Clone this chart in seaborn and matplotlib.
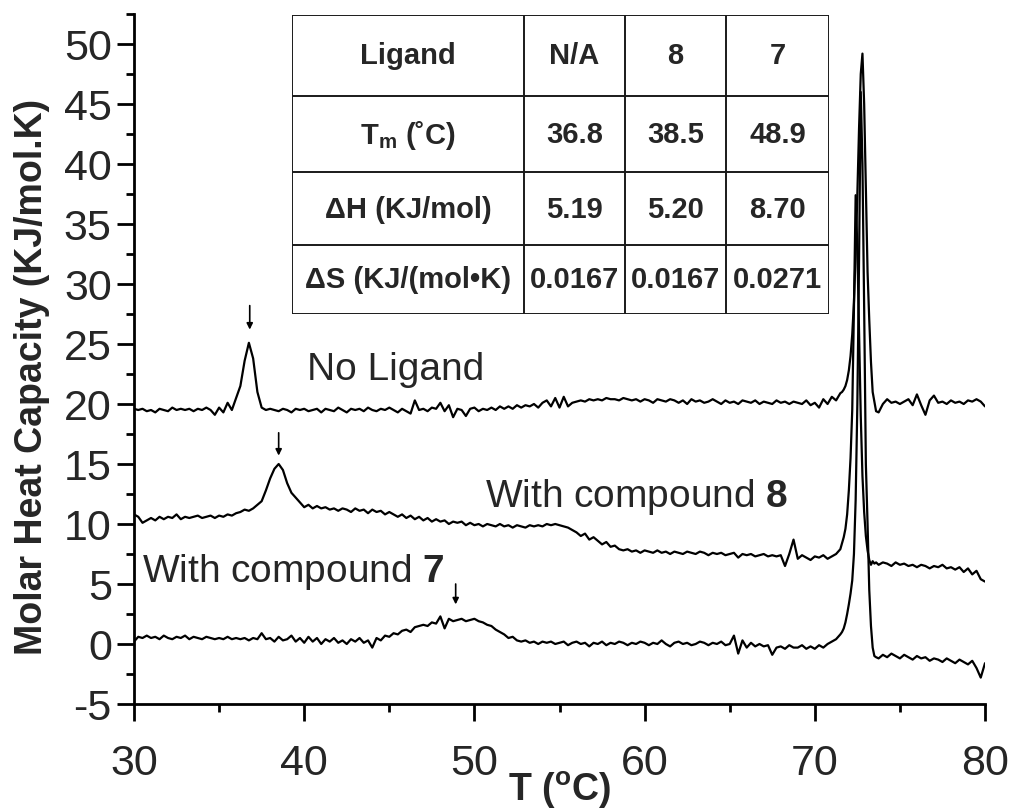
import numpy as np
import pandas as pd
import matplotlib
matplotlib.use("Agg")
import matplotlib.pyplot as plt
from matplotlib.ticker import MultipleLocator
import seaborn as sns

# ---------------- data ----------------
# Temperature sampling (degC): coarse below the main transition, fine across it, coarse after
temp_low = np.arange(30.0, 71.5 + 1e-9, 0.25)
temp_mid = np.round(np.arange(71.6, 73.6 + 1e-9, 0.1), 2)
temp_high = np.arange(73.75, 80.0 + 1e-9, 0.25)
temperature = np.concatenate([temp_low, temp_mid, temp_high])

cp_no_ligand = [
    19.6, 19.5, 19.6, 19.4,  19.5, 19.3, 19.6, 19.5,  19.4, 19.7, 19.5, 19.6,
    19.5, 19.6, 19.4, 19.6,  19.5, 19.7, 19.5, 19.1,  19.7, 19.3, 20.1, 19.5,
    20.5, 21.5, 23.6, 25.1,  23.8, 21.0, 19.7, 19.5,  19.6, 19.5, 19.4, 19.6,
    19.5, 19.3, 19.6, 19.5,  19.6, 19.4, 19.5, 19.6,  19.3, 19.6, 19.5, 19.4,
    19.7, 19.5, 19.3, 19.6,  19.5, 19.6, 19.4, 19.7,  19.5, 19.4, 19.6, 19.5,
    19.7, 19.5, 19.3, 19.6,  19.4, 19.2, 20.3, 19.5,  19.6, 19.4, 19.7, 19.6,
    20.1, 19.4, 19.9, 18.9,  19.6, 19.5, 19.0, 19.6,  19.7, 19.4, 19.6, 19.5,
    19.7, 19.5, 19.8, 19.6,  19.8, 19.6, 19.9, 19.7,  19.9, 19.8, 20.0, 19.7,
    20.1, 20.3, 19.8, 20.5,  19.7, 20.6, 19.8, 20.1,  20.2, 20.3, 20.2, 20.4,
    20.3, 20.4, 20.3, 20.5,  20.4, 20.4, 20.3, 20.5,  20.4, 20.3, 20.4, 20.2,
    20.4, 20.3, 20.1, 20.4,  20.3, 20.2, 20.4, 20.3,  20.1, 20.3, 20.0, 20.4,
    20.2, 20.3, 20.1, 20.2,  20.4, 20.2, 20.0, 20.3,  20.1, 20.2, 20.0, 20.3,
    20.2, 20.1, 20.3, 20.0,  20.2, 20.1, 20.0, 20.3,  20.1, 20.2, 20.0, 20.2,
    20.1, 20.0, 20.3, 19.9,  20.1, 19.7, 20.4, 20.0,  20.6, 20.3, 20.9,
    21.0, 21.2, 21.5, 22.0, 22.8, 24.0, 25.8, 28.5, 32.5, 37.5, 43.0,
    47.5, 49.2, 45.0, 38.0, 31.0, 27.0, 23.5, 21.0, 20.2, 19.4,
    19.3, 20.0, 20.4, 20.1, 20.2, 20.0, 20.2, 20.4, 19.9, 20.8, 19.9, 19.1, 20.3,
    20.7, 20.1, 20.2, 20.0, 20.3, 20.1, 20.2, 20.0, 20.3, 20.2, 20.4, 20.2, 19.8,
]

cp_compound_8 = [
    10.8, 10.6, 10.1, 10.3,  10.5, 10.3, 10.6, 10.4,  10.6, 10.5, 10.8, 10.4,
    10.6, 10.5, 10.6, 10.7,  10.5, 10.6, 10.7, 10.5,  10.7, 10.6, 10.8, 10.7,
    10.9, 11.0, 11.2, 11.1,  11.3, 11.6, 11.9, 12.8,  13.8, 14.6, 15.0, 14.5,
    13.4, 12.6, 12.2, 11.8,  11.4, 11.6, 11.3, 11.5,  11.3, 11.4, 11.2, 11.3,
    11.1, 11.3, 11.2, 11.0,  11.3, 11.1, 11.2, 10.9,  11.2, 11.0, 11.1, 10.8,
    11.0, 10.8, 10.6, 10.8,  10.5, 10.7, 10.4, 10.6,  10.3, 10.5, 10.2, 10.4,
    10.2, 10.3, 10.0, 10.2,  10.1, 10.2, 9.9, 10.1,   9.9, 10.0, 9.8, 10.0,
    9.9, 9.8, 10.0, 9.8,     9.9, 9.7, 9.9, 9.8,      9.7, 9.9, 9.8, 9.9,
    9.8, 10.0, 9.9, 10.0,    9.9, 9.8, 9.7, 9.5,      9.3, 9.0, 9.2, 8.7,
    8.9, 8.6, 8.3, 8.5,      8.1, 8.2, 7.9, 7.8,      7.9, 7.7, 7.8, 7.6,
    7.8, 7.7, 7.6, 7.8,      7.6, 7.7, 7.5, 7.7,      7.6, 7.5, 7.7, 7.6,
    7.5, 7.7, 7.6, 7.4,      7.6, 7.5, 7.6, 7.4,      7.5, 7.6, 7.2, 7.5,
    7.4, 7.5, 7.3, 7.4,      7.5, 7.3, 7.4, 7.3,      7.4, 6.5, 7.5, 8.7,
    7.1, 7.4, 7.2, 7.0,      7.3, 7.2, 7.4, 7.1,      7.3, 7.5, 7.9,
    8.4, 8.9, 9.6, 10.8, 12.8, 15.5, 19.5, 28.0, 37.4, 33.0, 26.0,
    19.0, 14.0, 11.0, 9.0, 7.8, 7.0, 6.6, 6.9, 6.7, 6.8,
    6.6, 6.8, 6.7, 6.5, 6.8, 6.6, 6.7, 6.5, 6.6, 6.4, 6.6, 6.5, 6.3,
    6.5, 6.4, 6.6, 6.3, 6.4, 6.2, 6.4, 6.0, 6.3, 5.8, 6.1, 5.4, 5.2,
]

cp_compound_7 = [
    0.2, 0.6, 0.5, 0.7,   0.5, 0.6, 0.4, 0.7,   0.5, 0.4, 0.6, 0.5,
    0.7, 0.4, 0.6, 0.5,   0.4, 0.6, 0.5, 0.4,   0.5, 0.4, 0.6, 0.4,
    0.5, 0.4, 0.5, 0.3,   0.5, 0.4, 0.9, 0.4,   0.5, 0.2, 0.6, 0.3,
    0.4, 0.7, 0.2, 0.5,   0.1, 0.6, 0.2, 0.5,   0.0, 0.4, 0.2, 0.5,
    0.1, 0.3, 0.0, 0.4,   0.2, 0.5, 0.1, 0.3,   -0.3, 0.5, 0.3, 0.7,
    0.6, 0.9, 0.8, 1.1,   1.2, 1.0, 1.4, 1.5,   1.6, 1.5, 1.8, 1.7,
    2.3, 1.3, 2.1, 1.9,   2.0, 2.1, 1.9, 2.0,   2.1, 1.9, 1.8, 1.6,
    1.5, 1.2, 1.0, 0.8,   0.5, 0.6, 0.3, 0.2,   0.3, 0.1, 0.2, 0.0,
    0.2, 0.1, 0.2, 0.0,   0.1, 0.2, -0.1, 0.1,  0.2, 0.0, 0.1, -0.2,
    0.1, 0.0, 0.2, -0.1,  0.1, 0.0, 0.2, 0.1,   -0.1, 0.1, 0.0, 0.2,
    0.1, -0.1, 0.1, 0.0,  0.3, 0.0, -0.2, 0.1,  0.2, 0.0, 0.1, -0.1,
    0.0, 0.2, 0.1, -0.1,  0.1, 0.0, 0.2, -0.1,  0.0, 0.7, -0.8, 0.3,
    -0.3, 0.1, -0.2, 0.0, -0.2, -0.1, -0.9, -0.3, -0.2, -0.4, -0.1, -0.3,
    -0.3, -0.1, -0.4, -0.2, -0.4, -0.1, -0.3, 0.0, 0.2, 0.4, 0.8,
    1.0, 1.3, 1.8, 2.5, 3.3, 4.2, 5.3, 7.5, 12.0, 20.0, 32.0,
    46.0, 40.0, 28.0, 15.0, 10.0, 4.5, 1.5, -0.3, -1.0, -1.1,
    -1.2, -0.9, -1.1, -0.8, -1.0, -1.2, -0.9, -1.1, -1.3, -1.0, -1.2, -1.1, -1.4,
    -1.2, -1.3, -1.5, -1.2, -1.4, -1.6, -1.3, -1.5, -1.7, -1.4, -2.0, -2.8, -1.6,
]

assert len(cp_no_ligand) == len(temperature)
assert len(cp_compound_8) == len(temperature)
assert len(cp_compound_7) == len(temperature)

# Inset table of fitted thermodynamic parameters
table_columns = ["Ligand", "N/A", "8", "7"]
tm_values = [36.8, 38.5, 48.9]
dh_values = ["5.19", "5.20", "8.70"]
ds_values = ["0.0167", "0.0167", "0.0271"]

# ---------------- style ----------------
sns.set_style("ticks")
plt.rcParams["font.family"] = ["Liberation Sans", "DejaVu Sans"]
plt.rcParams["axes.unicode_minus"] = False
plt.rcParams["mathtext.fontset"] = "custom"
plt.rcParams["mathtext.rm"] = "Liberation Sans"
plt.rcParams["mathtext.it"] = "Liberation Sans:italic"
plt.rcParams["mathtext.bf"] = "Liberation Sans:bold"

W, H = 1011, 812
fig = plt.figure(figsize=(W / 100, H / 100), dpi=100)
ax = fig.add_axes([134 / W, 1 - 705 / H, (985 - 134) / W, (705 - 15) / H])

df = pd.DataFrame({
    "T": np.tile(temperature, 3),
    "Cp": np.concatenate([cp_no_ligand, cp_compound_8, cp_compound_7]),
    "sample": np.repeat(["No Ligand", "With compound 8", "With compound 7"], len(temperature)),
})
for name, sub in df.groupby("sample", sort=False):
    sns.lineplot(data=sub, x="T", y="Cp", ax=ax, color="black", lw=1.6,
                 estimator=None, sort=False, legend=False)

ax.set_xlim(30, 80)
ax.set_ylim(-5, 52.5)
ax.xaxis.set_major_locator(MultipleLocator(10))
ax.xaxis.set_minor_locator(MultipleLocator(5))
ax.yaxis.set_minor_locator(MultipleLocator(2.5))
ax.set_yticks(np.arange(-5, 51, 5))
ax.tick_params(which="major", direction="out", length=12, width=2, labelsize=31, color="black")
ax.tick_params(which="minor", direction="out", length=6, width=2, color="black")
ax.tick_params(axis="x", pad=16)
ax.tick_params(axis="y", pad=4)
for side in ("top", "right"):
    ax.spines[side].set_visible(False)
for side in ("left", "bottom"):
    ax.spines[side].set_linewidth(2)
    ax.spines[side].set_color("black")

ax.set_xlabel(r"T ($^{\mathbf{o}}$C)", fontsize=27, fontweight="bold")
ax.xaxis.set_label_coords(0.5, -0.094)
ax.set_ylabel("Molar Heat Capacity (KJ/mol.K)", fontsize=27, fontweight="bold")
ax.yaxis.set_label_coords(-0.099, 0.475)

# Trace labels
ax.text(40.17, 22.9, "No Ligand", fontsize=28, va="center", ha="left")
ax.text(50.62, 12.3, r"With compound $\mathbf{8}$", fontsize=28, va="center", ha="left")
ax.text(30.47, 6.1, r"With compound $\mathbf{7}$", fontsize=28, va="center", ha="left")

# Arrows marking the low-temperature transitions
arrow_tops = [28.2, 17.6, 5.0]
arrow_tips = [26.2, 15.7, 3.3]
for tm, y0, y1 in zip(tm_values, arrow_tops, arrow_tips):
    ax.annotate("", xy=(tm, y1), xytext=(tm, y0),
                arrowprops=dict(arrowstyle="-|>", color="black", lw=1.2,
                                mutation_scale=9, shrinkA=0, shrinkB=0))

# ---------------- inset table ----------------
tx0, tx1, ty0, ty1 = 292, 829, 16, 315
tab = fig.add_axes([tx0 / W, 1 - ty1 / H, (tx1 - tx0) / W, (ty1 - ty0) / H])
tab.set_xlim(0, tx1 - tx0)
tab.set_ylim(ty1 - ty0, 0)
tab.axis("off")
col_edges = [0, 232, 333, 434, 537]
row_edges = [0, 81, 157, 230, 299]
for xe in col_edges:
    tab.plot([xe, xe], [row_edges[0], row_edges[-1]], color="#1a1a1a", lw=1.4, solid_capstyle="projecting")
for ye in row_edges:
    tab.plot([col_edges[0], col_edges[-1]], [ye, ye], color="#1a1a1a", lw=1.4, solid_capstyle="projecting")

rows = [
    table_columns,
    [r"T$_{\mathbf{m}}$ (˚C)"] + [f"{v:.1f}" for v in tm_values],
    ["ΔH (KJ/mol)"] + dh_values,
    ["ΔS (KJ/(mol•K)"] + ds_values,
]
for r, row in enumerate(rows):
    yc = (row_edges[r] + row_edges[r + 1]) / 2
    for c, cell in enumerate(row):
        xc = (col_edges[c] + col_edges[c + 1]) / 2
        tab.text(xc, yc, cell, fontsize=21, fontweight="bold", ha="center", va="center")

fig.savefig("out.png", dpi=100)
